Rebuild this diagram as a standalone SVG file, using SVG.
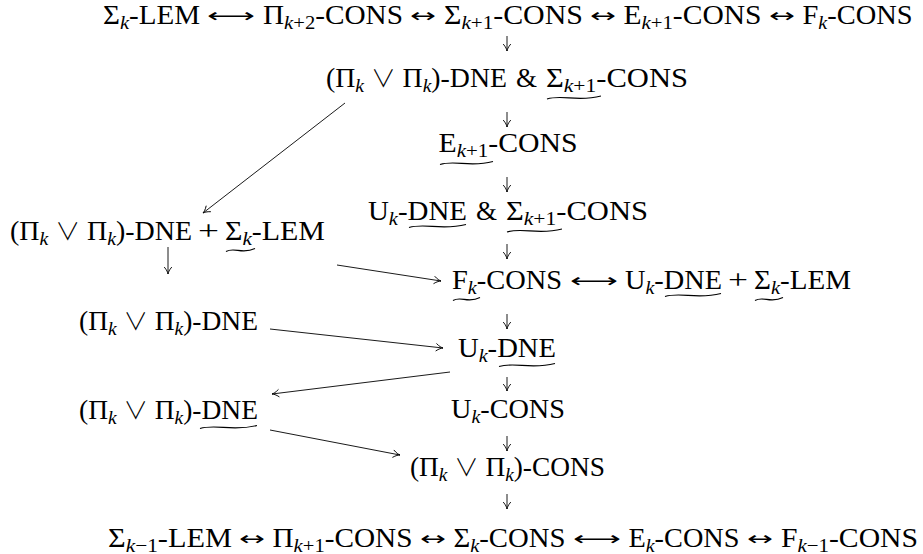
<svg xmlns="http://www.w3.org/2000/svg" width="923" height="554" viewBox="0 0 923 554">
<style>
text{font-family:"Liberation Serif","DejaVu Serif",serif;font-size:27px;fill:#000}
.s{font-size:19px}
.i{font-style:italic}
.v{font-family:"Noto Sans CJK JP","DejaVu Sans",sans-serif;font-weight:300;font-size:24px}
.a{font-family:"DejaVu Sans",sans-serif;font-size:19px}
.w{fill:none;stroke:#000;stroke-width:1.2}
.c line{stroke:#000;stroke-width:0.9;marker-end:url(#ah)}
</style>
<defs>
<marker id="ah" markerUnits="userSpaceOnUse" markerWidth="12" markerHeight="12" viewBox="-9 -6 10 12" refX="0" refY="0" orient="auto">
<path d="M-7,-3.8 C-4,-1.2 -1.5,-0.3 0,0 C-1.5,0.3 -4,1.2 -7,3.8" fill="none" stroke="#000" stroke-width="0.9"/>
</marker>
</defs>
<rect width="923" height="554" fill="#fff"/>
<g id="n1">
<text x="103" y="24" textLength="97" lengthAdjust="spacingAndGlyphs">Σ<tspan class="s i" dy="4.5">k</tspan><tspan dy="-4.5">-LEM</tspan></text>
<text class="a" x="207" y="22" textLength="48" lengthAdjust="spacingAndGlyphs">⟷</text>
<text x="263" y="24" textLength="140" lengthAdjust="spacingAndGlyphs">Π<tspan class="s" dy="4.5"><tspan class="i">k</tspan>+2</tspan><tspan dy="-4.5">-CONS</tspan></text>
<text class="a" x="410" y="22" textLength="26" lengthAdjust="spacingAndGlyphs">↔</text>
<text x="444" y="24" textLength="139" lengthAdjust="spacingAndGlyphs">Σ<tspan class="s" dy="4.5"><tspan class="i">k</tspan>+1</tspan><tspan dy="-4.5">-CONS</tspan></text>
<text class="a" x="590" y="22" textLength="26" lengthAdjust="spacingAndGlyphs">↔</text>
<text x="623.5" y="24" textLength="138" lengthAdjust="spacingAndGlyphs">E<tspan class="s" dy="4.5"><tspan class="i">k</tspan>+1</tspan><tspan dy="-4.5">-CONS</tspan></text>
<text class="a" x="769" y="22" textLength="26" lengthAdjust="spacingAndGlyphs">↔</text>
<text x="802.5" y="24" textLength="110" lengthAdjust="spacingAndGlyphs">F<tspan class="s i" dy="4.5">k</tspan><tspan dy="-4.5">-CONS</tspan></text>
</g>
<g id="n2">
<text x="326" y="87" textLength="181" lengthAdjust="spacingAndGlyphs">(Π<tspan class="s i" dy="4.5">k</tspan><tspan dy="-4.5"> </tspan><tspan class="v">∨</tspan> Π<tspan class="s i" dy="4.5">k</tspan><tspan dy="-4.5">)-DNE</tspan></text>
<text x="516" y="87" textLength="21" lengthAdjust="spacingAndGlyphs">&amp;</text>
<text x="546" y="87" textLength="142" lengthAdjust="spacingAndGlyphs">Σ<tspan class="s" dy="4.5"><tspan class="i">k</tspan>+1</tspan><tspan dy="-4.5">-CONS</tspan></text>
<path class="w" d="M547,99 C563.2,94 576.7,102.5 601,96"/>
</g>
<g id="n3">
<text x="438.5" y="152" textLength="139" lengthAdjust="spacingAndGlyphs">E<tspan class="s" dy="4.5"><tspan class="i">k</tspan>+1</tspan><tspan dy="-4.5">-CONS</tspan></text>
<path class="w" d="M440,164.5 C455.9,159.5 469.2,168 493,161.5"/>
</g>
<g id="n4">
<text x="368" y="220" textLength="99" lengthAdjust="spacingAndGlyphs">U<tspan class="s i" dy="4.5">k</tspan><tspan dy="-4.5">-DNE</tspan></text>
<text x="476" y="220" textLength="21" lengthAdjust="spacingAndGlyphs">&amp;</text>
<text x="506" y="220" textLength="142" lengthAdjust="spacingAndGlyphs">Σ<tspan class="s" dy="4.5"><tspan class="i">k</tspan>+1</tspan><tspan dy="-4.5">-CONS</tspan></text>
<path class="w" d="M409,227.5 C426.1,222.5 440.4,231 466,224.5"/>
<path class="w" d="M507,232 C523.5,227 537.3,235.5 562,229"/>
</g>
<g id="n5">
<text x="10" y="240" textLength="182" lengthAdjust="spacingAndGlyphs">(Π<tspan class="s i" dy="4.5">k</tspan><tspan dy="-4.5"> </tspan><tspan class="v">∨</tspan> Π<tspan class="s i" dy="4.5">k</tspan><tspan dy="-4.5">)-DNE</tspan></text>
<text x="198" y="240" textLength="21" lengthAdjust="spacingAndGlyphs">+</text>
<text x="225" y="240" textLength="100" lengthAdjust="spacingAndGlyphs">Σ<tspan class="s i" dy="4.5">k</tspan><tspan dy="-4.5">-LEM</tspan></text>
<path class="w" d="M226,251.5 C234.7,246.5 242,255 255,248.5"/>
</g>
<g id="n6">
<text x="452" y="289" textLength="110" lengthAdjust="spacingAndGlyphs">F<tspan class="s i" dy="4.5">k</tspan><tspan dy="-4.5">-CONS</tspan></text>
<text class="a" x="570" y="287" textLength="48" lengthAdjust="spacingAndGlyphs">⟷</text>
<text x="625" y="289" textLength="97" lengthAdjust="spacingAndGlyphs">U<tspan class="s i" dy="4.5">k</tspan><tspan dy="-4.5">-DNE</tspan></text>
<text x="728" y="289" textLength="20" lengthAdjust="spacingAndGlyphs">+</text>
<text x="754" y="289" textLength="97" lengthAdjust="spacingAndGlyphs">Σ<tspan class="s i" dy="4.5">k</tspan><tspan dy="-4.5">-LEM</tspan></text>
<path class="w" d="M453,300.5 C461.1,295.5 467.9,304 480,297.5"/>
<path class="w" d="M665,296.5 C681.8,291.5 695.8,300 721,293.5"/>
<path class="w" d="M755,300.5 C763.4,295.5 770.4,304 783,297.5"/>
</g>
<g id="n7">
<text x="79" y="330" textLength="179" lengthAdjust="spacingAndGlyphs">(Π<tspan class="s i" dy="4.5">k</tspan><tspan dy="-4.5"> </tspan><tspan class="v">∨</tspan> Π<tspan class="s i" dy="4.5">k</tspan><tspan dy="-4.5">)-DNE</tspan></text>
</g>
<g id="n8">
<text x="458" y="357" textLength="98" lengthAdjust="spacingAndGlyphs">U<tspan class="s i" dy="4.5">k</tspan><tspan dy="-4.5">-DNE</tspan></text>
<path class="w" d="M499,366.5 C515.8,361.5 529.8,370 555,363.5"/>
</g>
<g id="n9">
<text x="79" y="419" textLength="179" lengthAdjust="spacingAndGlyphs">(Π<tspan class="s i" dy="4.5">k</tspan><tspan dy="-4.5"> </tspan><tspan class="v">∨</tspan> Π<tspan class="s i" dy="4.5">k</tspan><tspan dy="-4.5">)-DNE</tspan></text>
<path class="w" d="M200,428.5 C217.1,423.5 231.4,432 257,425.5"/>
</g>
<g id="n10">
<text x="451" y="418" textLength="114" lengthAdjust="spacingAndGlyphs">U<tspan class="s i" dy="4.5">k</tspan><tspan dy="-4.5">-CONS</tspan></text>
</g>
<g id="n11">
<text x="410" y="476" textLength="195" lengthAdjust="spacingAndGlyphs">(Π<tspan class="s i" dy="4.5">k</tspan><tspan dy="-4.5"> </tspan><tspan class="v">∨</tspan> Π<tspan class="s i" dy="4.5">k</tspan><tspan dy="-4.5">)-CONS</tspan></text>
</g>
<g id="n12">
<text x="108" y="547" textLength="124" lengthAdjust="spacingAndGlyphs">Σ<tspan class="s" dy="4.5"><tspan class="i">k</tspan>−1</tspan><tspan dy="-4.5">-LEM</tspan></text>
<text class="a" x="239" y="545" textLength="26" lengthAdjust="spacingAndGlyphs">↔</text>
<text x="272.5" y="547" textLength="140" lengthAdjust="spacingAndGlyphs">Π<tspan class="s" dy="4.5"><tspan class="i">k</tspan>+1</tspan><tspan dy="-4.5">-CONS</tspan></text>
<text class="a" x="420" y="545" textLength="26" lengthAdjust="spacingAndGlyphs">↔</text>
<text x="453.5" y="547" textLength="112" lengthAdjust="spacingAndGlyphs">Σ<tspan class="s i" dy="4.5">k</tspan><tspan dy="-4.5">-CONS</tspan></text>
<text class="a" x="573" y="545" textLength="48" lengthAdjust="spacingAndGlyphs">⟷</text>
<text x="628.5" y="547" textLength="111" lengthAdjust="spacingAndGlyphs">E<tspan class="s i" dy="4.5">k</tspan><tspan dy="-4.5">-CONS</tspan></text>
<text class="a" x="747" y="545" textLength="26" lengthAdjust="spacingAndGlyphs">↔</text>
<text x="781" y="547" textLength="137" lengthAdjust="spacingAndGlyphs">F<tspan class="s" dy="4.5"><tspan class="i">k</tspan>−1</tspan><tspan dy="-4.5">-CONS</tspan></text>
</g>
<g id="connectors" class="c">
<line x1="507" y1="36" x2="507" y2="51"/>
<line x1="507" y1="112" x2="507" y2="127"/>
<line x1="507" y1="177" x2="507" y2="192"/>
<line x1="507" y1="244" x2="507" y2="259"/>
<line x1="507" y1="314" x2="507" y2="329"/>
<line x1="507" y1="377" x2="507" y2="391"/>
<line x1="507" y1="436" x2="507" y2="451"/>
<line x1="507" y1="494" x2="507" y2="509"/>
<line x1="168" y1="247" x2="168" y2="274"/>
<line x1="345" y1="103" x2="203" y2="213"/>
<line x1="337" y1="265" x2="441" y2="281"/>
<line x1="270" y1="329" x2="443" y2="348"/>
<line x1="450" y1="372" x2="272" y2="394"/>
<line x1="270" y1="430" x2="400" y2="455"/>
</g>
</svg>
